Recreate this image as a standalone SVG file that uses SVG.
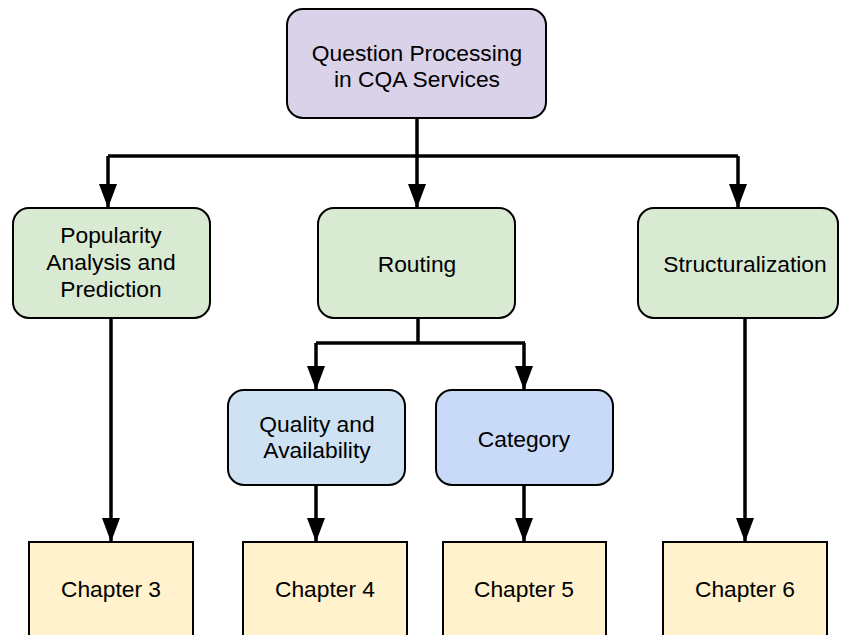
<svg xmlns="http://www.w3.org/2000/svg" width="841" height="635" viewBox="0 0 841 635">
<defs>
<marker id="arrow" viewBox="0 0 24 18" refX="24" refY="9" markerWidth="24" markerHeight="18" orient="auto" markerUnits="userSpaceOnUse">
<path d="M0,0 L24,9 L0,18 Z" fill="#000"/>
</marker>
</defs>
<style>
.node rect{stroke:#000;stroke-width:2}
.purple{fill:#d9d2e9}
.green{fill:#d9ead3}
.blue{fill:#cfe2f3}
.cat{fill:#c9daf8}
.ch{fill:#fff2cc}
text{font-family:"Liberation Sans",Arial,sans-serif;font-size:22.8px;fill:#000;text-anchor:middle}
.edge{fill:none;stroke:#000;stroke-width:3.5}
.arr{marker-end:url(#arrow)}
</style>
<rect width="841" height="635" fill="#fff"/>
<g id="connectors">
<path class="edge" d="M417,118 V156"/>
<path class="edge" d="M108,156 H738"/>
<path class="edge arr" d="M108,156 V208"/>
<path class="edge arr" d="M417,156 V208"/>
<path class="edge arr" d="M738,156 V208"/>
<path class="edge" d="M418,318 V343"/>
<path class="edge" d="M316,343 H525"/>
<path class="edge arr" d="M316,343 V390"/>
<path class="edge arr" d="M524,343 V390"/>
<path class="edge arr" d="M111,318 V542"/>
<path class="edge arr" d="M316,485 V542"/>
<path class="edge arr" d="M524,485 V542"/>
<path class="edge arr" d="M745,318 V542"/>
</g>
<g id="root" class="node">
<rect class="purple" x="287" y="9" width="259" height="109" rx="16"/>
<text x="417" y="61">Question Processing</text>
<text x="417" y="87">in CQA Services</text>
</g>
<g id="popularity" class="node">
<rect class="green" x="13" y="208" width="197" height="110" rx="16"/>
<text x="111" y="243">Popularity</text>
<text x="111" y="270">Analysis and</text>
<text x="111" y="297">Prediction</text>
</g>
<g id="routing" class="node">
<rect class="green" x="318" y="208" width="197" height="110" rx="16"/>
<text x="417" y="272">Routing</text>
</g>
<g id="structuralization" class="node">
<rect class="green" x="638" y="208" width="200" height="110" rx="16"/>
<text x="745" y="272">Structuralization</text>
</g>
<g id="quality" class="node">
<rect class="blue" x="228" y="390" width="177" height="95" rx="16"/>
<text x="317" y="432">Quality and</text>
<text x="317" y="458">Availability</text>
</g>
<g id="category" class="node">
<rect class="cat" x="436" y="390" width="177" height="95" rx="16"/>
<text x="524" y="447">Category</text>
</g>
<g id="ch3" class="node">
<rect class="ch" x="29" y="542" width="164" height="100"/>
<text x="111" y="597">Chapter 3</text>
</g>
<g id="ch4" class="node">
<rect class="ch" x="243" y="542" width="164" height="100"/>
<text x="325" y="597">Chapter 4</text>
</g>
<g id="ch5" class="node">
<rect class="ch" x="443" y="542" width="163" height="100"/>
<text x="524" y="597">Chapter 5</text>
</g>
<g id="ch6" class="node">
<rect class="ch" x="663" y="542" width="164" height="100"/>
<text x="745" y="597">Chapter 6</text>
</g>
</svg>
